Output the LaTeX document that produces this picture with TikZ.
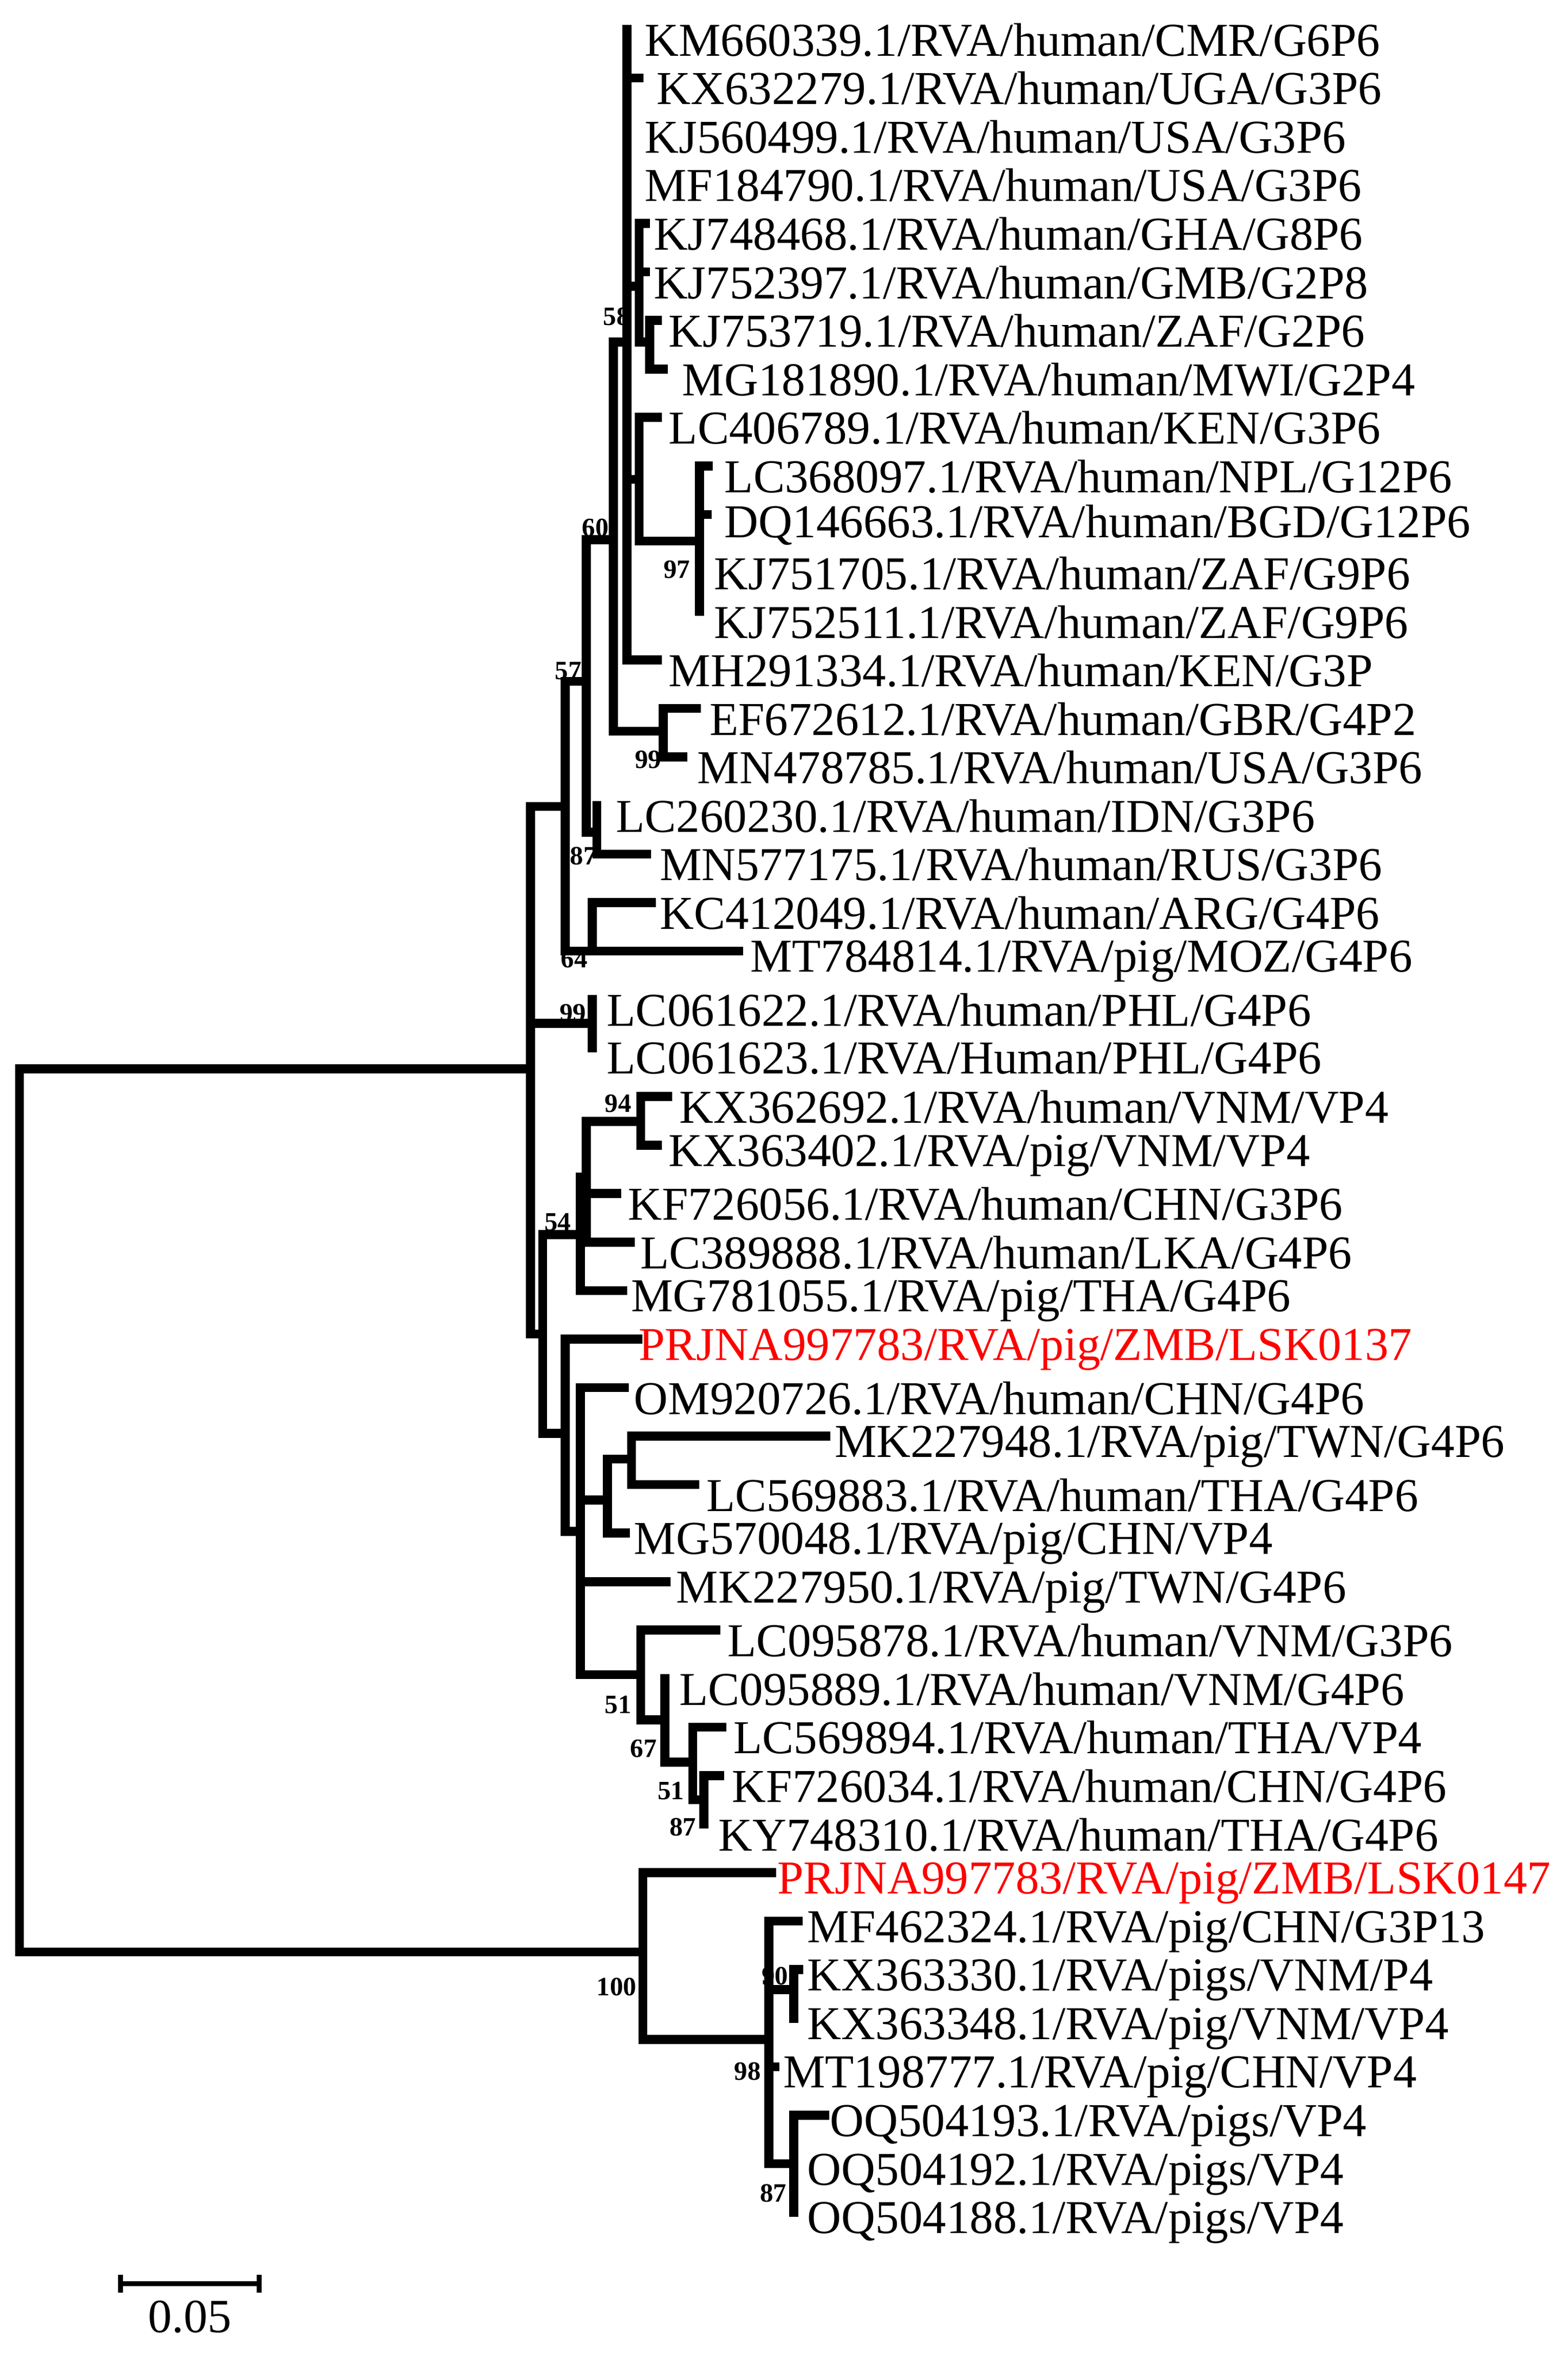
\documentclass[tikz,border=0pt]{standalone}
\usepackage{fontspec}
\setmainfont{Liberation Serif}
\newcommand\Y[1]{19.5+32.18*(#1)}
\begin{document}
\begin{tikzpicture}[x=0.1mm,y=-0.1mm,
  br/.style={line width=1.7pt,line cap=rect},
  leaf/.style={anchor=west,inner sep=0pt,font=\fontsize{8.9}{10}\selectfont},
  hl/.style={leaf,text=red},
  bs/.style={inner sep=0pt,font=\fontsize{5}{6}\selectfont\bfseries}]
\useasboundingbox (0,0) rectangle (1040,1563);
% ---------- branches ----------
\draw[br] (13,709)--(13,1295);
\draw[br] (13,709)--(352,709);
\draw[br] (13,1295)--(426.5,1295);
\draw[br] (352,535)--(352,885);
\draw[br] (352,535)--(375,535);
\draw[br] (375,452)--(375,{\Y{19}});
\draw[br] (375,452)--(389,452);
\draw[br] (389,358)--(389,552);
\draw[br] (389,358)--(407,358);
\draw[br] (407,227)--(407,485);
\draw[br] (407,227)--(416,227);
\draw[br] (416,{\Y{0}})--(416,{\Y{13}});
\draw[br] (416,{\Y{1}})--(424,{\Y{1}});
\draw[br] (416,190)--(424,190);
\draw[br] (424,{\Y{4}})--(424,227);
\draw[br] (424,{\Y{4}})--(428,{\Y{4}});
\draw[br] (424,{\Y{5}})--(428,{\Y{5}});
\draw[br] (424,227)--(431,227);
\draw[br] (431,{\Y{6}})--(431,{\Y{7}});
\draw[br] (431,{\Y{6}})--(436,{\Y{6}});
\draw[br] (431,{\Y{7}})--(440,{\Y{7}});
\draw[br] (416,318)--(424,318);
\draw[br] (424,{\Y{8}})--(424,359);
\draw[br] (424,{\Y{8}})--(436,{\Y{8}});
\draw[br] (424,359)--(464,359);
\draw[br] (464,{\Y{9}})--(464,{\Y{12}});
\draw[br] (464,{\Y{9}})--(470,{\Y{9}});
\draw[br] (464,{\Y{10}})--(469,{\Y{10}});
\draw[br] (416,{\Y{13}})--(436,{\Y{13}});
\draw[br] (407,485)--(440,485);
\draw[br] (440,{\Y{14}})--(440,{\Y{15}});
\draw[br] (440,{\Y{14}})--(462,{\Y{14}});
\draw[br] (440,{\Y{15}})--(453,{\Y{15}});
\draw[br] (389,552)--(396,552);
\draw[br] (396,{\Y{16}})--(396,{\Y{17}});
\draw[br] (396,{\Y{17}})--(429,{\Y{17}});
\draw[br] (375,{\Y{19}})--(490,{\Y{19}});
\draw[br] (393,{\Y{18}})--(393,{\Y{19}});
\draw[br] (393,{\Y{18}})--(432,{\Y{18}});
\draw[br] (352,679)--(393,679);
\draw[br] (393,{\Y{20}})--(393,{\Y{21}});
\draw[br] (352,885)--(360,885);
\draw[br] (360,819)--(360,951);
\draw[br] (360,819)--(385,819);
\draw[br] (385,781)--(385,{\Y{26}});
\draw[br] (385,781)--(389,781);
\draw[br] (389,744)--(389,{\Y{25}});
\draw[br] (389,744)--(425,744);
\draw[br] (425,{\Y{22}})--(425,{\Y{23}});
\draw[br] (425,{\Y{22}})--(443,{\Y{22}});
\draw[br] (425,{\Y{23}})--(436,{\Y{23}});
\draw[br] (389,{\Y{24}})--(409,{\Y{24}});
\draw[br] (389,{\Y{25}})--(418,{\Y{25}});
\draw[br] (385,{\Y{26}})--(413,{\Y{26}});
\draw[br] (360,951)--(375,951);
\draw[br] (375,{\Y{27}})--(375,1016);
\draw[br] (375,{\Y{27}})--(423,{\Y{27}});
\draw[br] (375,1016)--(385,1016);
\draw[br] (385,{\Y{28}})--(385,1111);
\draw[br] (385,{\Y{28}})--(414,{\Y{28}});
\draw[br] (385,995)--(403,995);
\draw[br] (403,968)--(403,{\Y{31}});
\draw[br] (403,968)--(419,968);
\draw[br] (419,{\Y{29}})--(419,{\Y{30}});
\draw[br] (419,{\Y{29}})--(548,{\Y{29}});
\draw[br] (419,{\Y{30}})--(461,{\Y{30}});
\draw[br] (403,{\Y{31}})--(415,{\Y{31}});
\draw[br] (385,{\Y{32}})--(442,{\Y{32}});
\draw[br] (385,1111)--(425,1111);
\draw[br] (425,{\Y{33}})--(425,1141);
\draw[br] (425,{\Y{33}})--(475,{\Y{33}});
\draw[br] (425,1141)--(441,1141);
\draw[br] (441,{\Y{34}})--(441,1169);
\draw[br] (441,1169)--(459.5,1169);
\draw[br] (459.5,{\Y{35}})--(459.5,1194);
\draw[br] (459.5,{\Y{35}})--(479,{\Y{35}});
\draw[br] (459.5,1194)--(467,1194);
\draw[br] (467,{\Y{36}})--(467,{\Y{37}});
\draw[br] (467,{\Y{36}})--(477.5,{\Y{36}});
% lower clade
\draw[br] (426.5,{\Y{38}})--(426.5,1353);
\draw[br] (426.5,{\Y{38}})--(512,{\Y{38}});
\draw[br] (426.5,1353)--(510,1353);
\draw[br] (510,{\Y{39}})--(510,{\Y{44}});
\draw[br] (510,{\Y{39}})--(529.5,{\Y{39}});
\draw[br] (510,1320)--(526.6,1320);
\draw[br] (526.6,{\Y{40}})--(526.6,{\Y{41}});
\draw[br] (526.6,{\Y{40}})--(530,{\Y{40}});
\draw[br] (510,{\Y{42}})--(514,{\Y{42}});
\draw[br] (510,{\Y{44}})--(526.6,{\Y{44}});
\draw[br] (526.6,{\Y{43}})--(526.6,{\Y{45}});
\draw[br] (526.6,{\Y{43}})--(547,{\Y{43}});
% ---------- leaves ----------
\node[leaf] (l0) at (427,{\Y{0}+7}) {KM660339.1/RVA/human/CMR/G6P6};
\node[leaf] (l1) at (435,{\Y{1}+7}) {KX632279.1/RVA/human/UGA/G3P6};
\node[leaf] (l2) at (427,{\Y{2}+7}) {KJ560499.1/RVA/human/USA/G3P6};
\node[leaf] (l3) at (427,{\Y{3}+7}) {MF184790.1/RVA/human/USA/G3P6};
\node[leaf] (l4) at (433,{\Y{4}+7}) {KJ748468.1/RVA/human/GHA/G8P6};
\node[leaf] (l5) at (433,{\Y{5}+7}) {KJ752397.1/RVA/human/GMB/G2P8};
\node[leaf] (l6) at (443,{\Y{6}+7}) {KJ753719.1/RVA/human/ZAF/G2P6};
\node[leaf] (l7) at (452,{\Y{7}+7}) {MG181890.1/RVA/human/MWI/G2P4};
\node[leaf] (l8) at (443,{\Y{8}+7}) {LC406789.1/RVA/human/KEN/G3P6};
\node[leaf] (l9) at (480,{\Y{9}+7}) {LC368097.1/RVA/human/NPL/G12P6};
\node[leaf] (l10) at (480,{\Y{10}+7}) {DQ146663.1/RVA/human/BGD/G12P6};
\node[leaf] (l11) at (473,{\Y{11}+7}) {KJ751705.1/RVA/human/ZAF/G9P6};
\node[leaf] (l12) at (473,{\Y{12}+7}) {KJ752511.1/RVA/human/ZAF/G9P6};
\node[leaf] (l13) at (443,{\Y{13}+7}) {MH291334.1/RVA/human/KEN/G3P};
\node[leaf] (l14) at (470,{\Y{14}+7}) {EF672612.1/RVA/human/GBR/G4P2};
\node[leaf] (l15) at (462,{\Y{15}+7}) {MN478785.1/RVA/human/USA/G3P6};
\node[leaf] (l16) at (408,{\Y{16}+7}) {LC260230.1/RVA/human/IDN/G3P6};
\node[leaf] (l17) at (437,{\Y{17}+7}) {MN577175.1/RVA/human/RUS/G3P6};
\node[leaf] (l18) at (437,{\Y{18}+7}) {KC412049.1/RVA/human/ARG/G4P6};
\node[leaf] (l19) at (497,{\Y{19}+7}) {MT784814.1/RVA/pig/MOZ/G4P6};
\node[leaf] (l20) at (402,{\Y{20}+7}) {LC061622.1/RVA/human/PHL/G4P6};
\node[leaf] (l21) at (402,{\Y{21}+7}) {LC061623.1/RVA/Human/PHL/G4P6};
\node[leaf] (l22) at (450,{\Y{22}+7}) {KX362692.1/RVA/human/VNM/VP4};
\node[leaf] (l23) at (443,{\Y{23}+7}) {KX363402.1/RVA/pig/VNM/VP4};
\node[leaf] (l24) at (416,{\Y{24}+7}) {KF726056.1/RVA/human/CHN/G3P6};
\node[leaf] (l25) at (424,{\Y{25}+7}) {LC389888.1/RVA/human/LKA/G4P6};
\node[leaf] (l26) at (418,{\Y{26}+7}) {MG781055.1/RVA/pig/THA/G4P6};
\node[hl] (l27) at (423,{\Y{27}+7}) {PRJNA997783/RVA/pig/ZMB/LSK0137};
\node[leaf] (l28) at (420,{\Y{28}+7}) {OM920726.1/RVA/human/CHN/G4P6};
\node[leaf] (l29) at (553,{\Y{29}+7}) {MK227948.1/RVA/pig/TWN/G4P6};
\node[leaf] (l30) at (468,{\Y{30}+7}) {LC569883.1/RVA/human/THA/G4P6};
\node[leaf] (l31) at (420,{\Y{31}+7}) {MG570048.1/RVA/pig/CHN/VP4};
\node[leaf] (l32) at (448,{\Y{32}+7}) {MK227950.1/RVA/pig/TWN/G4P6};
\node[leaf] (l33) at (482,{\Y{33}+7}) {LC095878.1/RVA/human/VNM/G3P6};
\node[leaf] (l34) at (450,{\Y{34}+7}) {LC095889.1/RVA/human/VNM/G4P6};
\node[leaf] (l35) at (486,{\Y{35}+7}) {LC569894.1/RVA/human/THA/VP4};
\node[leaf] (l36) at (485,{\Y{36}+7}) {KF726034.1/RVA/human/CHN/G4P6};
\node[leaf] (l37) at (476,{\Y{37}+7}) {KY748310.1/RVA/human/THA/G4P6};
\node[hl] (l38) at (515,{\Y{38}+7}) {PRJNA997783/RVA/pig/ZMB/LSK0147};
\node[leaf] (l39) at (535,{\Y{39}+7}) {MF462324.1/RVA/pig/CHN/G3P13};
\node[leaf] (l40) at (535,{\Y{40}+7}) {KX363330.1/RVA/pigs/VNM/P4};
\node[leaf] (l41) at (535,{\Y{41}+7}) {KX363348.1/RVA/pig/VNM/VP4};
\node[leaf] (l42) at (519,{\Y{42}+7}) {MT198777.1/RVA/pig/CHN/VP4};
\node[leaf] (l43) at (550,{\Y{43}+7}) {OQ504193.1/RVA/pigs/VP4};
\node[leaf] (l44) at (535,{\Y{44}+7}) {OQ504192.1/RVA/pigs/VP4};
\node[leaf] (l45) at (535,{\Y{45}+7}) {OQ504188.1/RVA/pigs/VP4};
% ---------- bootstrap ----------
\node[bs] (b1) at (409,210) {58};
\node[bs] (b2) at (395,350) {60};
\node[bs] (b3) at (449,378) {97};
\node[bs] (b4) at (377,445) {57};
\node[bs] (b5) at (430,504) {99};
\node[bs] (b6) at (387,568) {87};
\node[bs] (b7) at (381,636) {64};
\node[bs] (b8) at (380,672) {99};
\node[bs] (b9) at (410,732) {94};
\node[bs] (b10) at (370,811) {54};
\node[bs] (b11) at (410,1131) {51};
\node[bs] (b12) at (427,1160) {67};
\node[bs] (b13) at (445,1188) {51};
\node[bs] (b14) at (453,1212) {87};
\node[bs] (b15) at (409,1318) {100};
\node[bs] (b16) at (514,1311) {90};
\node[bs] (b17) at (496,1374) {98};
\node[bs] (b18) at (513,1455) {87};
% ---------- scale bar ----------
\coordinate (s1) at (80,1515);
\coordinate (s2) at (172,1515);
\draw[line width=0.9pt] (s1)--(s2);
\draw[line width=0.9pt] (80,1509)--(80,1521);
\draw[line width=0.9pt] (172,1509)--(172,1521);
\node[inner sep=0pt,font=\fontsize{9}{10}\selectfont] (sl) at (126,1537) {0.05};
\end{tikzpicture}
\end{document}
